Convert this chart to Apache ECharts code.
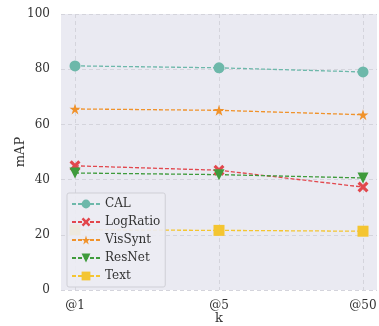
<!DOCTYPE html>
<html><head><meta charset="utf-8">
<script src="https://cdn.jsdelivr.net/npm/echarts@6/dist/echarts.min.js"></script>
<style>html,body{margin:0;padding:0;background:#fff}#c{width:379px;height:326px}</style>
</head><body><div id="c"></div>
<script>
const categories = ['@1', '@5', '@50'];
const yTicks = [0, 20, 40, 60, 80, 100];
const seriesNames = ['CAL', 'LogRatio', 'VisSynt', 'ResNet', 'Text'];
const calValues = [81.2, 80.5, 79.0];
const logRatioValues = [45.0, 43.4, 37.3];
const visSyntValues = [65.6, 65.1, 63.5];
const resNetValues = [42.4, 41.8, 40.6];
const textValues = [21.8, 21.6, 21.3];

const colors = ['#6db8aa', '#e2474d', '#f0922b', '#3f9b3c', '#f4c531'];
const crossPath = 'path://M2,0 L5,3 L8,0 L10,2 L7,5 L10,8 L8,10 L5,7 L2,10 L0,8 L3,5 L0,2 Z';
const starPath = 'path://M50,0 L61.8,36.2 L100,36.2 L69.1,58.6 L80.9,95.1 L50,72.4 L19.1,95.1 L30.9,58.6 L0,36.2 L38.2,36.2 Z';
const symbols = ['circle', crossPath, starPath, 'triangle', 'rect'];
const sizes = [11, 11, 11, 11, 11];
const rotates = [0, 0, 0, 180, 0];
const values = [calValues, logRatioValues, visSyntValues, resNetValues, textValues];

const font = 'DejaVu Serif';
const chart = echarts.init(document.getElementById('c'));
chart.setOption({
  animation: false,
  textStyle: { fontFamily: font },
  grid: [
    { left: 61, top: 14, width: 316, height: 276, show: true, backgroundColor: '#eaeaf2', borderWidth: 0, containLabel: false, outerBoundsMode: 'none' },
    { left: 75, top: 14, width: 288, height: 276, show: false, containLabel: false, outerBoundsMode: 'none' }
  ],
  xAxis: [
    { type: 'value', gridIndex: 0, min: 0, max: 1, show: false },
    { type: 'category', gridIndex: 1, data: categories, boundaryGap: false,
      axisLine: { show: false }, axisTick: { show: false },
      axisLabel: { color: '#333', fontSize: 12, fontFamily: font, margin: 10 },
      splitLine: { show: true, lineStyle: { color: '#d4d4dc', type: [4, 3], width: 1 } },
      name: 'k', nameLocation: 'middle', nameGap: 22, nameMoveOverlap: false,
      nameTextStyle: { color: '#333', fontSize: 13, fontFamily: font } }
  ],
  yAxis: [
    { type: 'value', gridIndex: 0, min: 0, max: 100, interval: 20,
      axisLine: { show: false }, axisTick: { show: false },
      axisLabel: { color: '#333', fontSize: 12, fontFamily: font, margin: 11,
        formatter: v => yTicks.includes(v) ? String(v) : '' },
      splitLine: { show: true, lineStyle: { color: '#d4d4dc', type: [4, 3], width: 1 } },
      name: 'mAP', nameLocation: 'middle', nameGap: 34, nameMoveOverlap: false,
      nameTextStyle: { color: '#333', fontSize: 13, fontFamily: font } },
    { type: 'value', gridIndex: 1, min: 0, max: 100, interval: 20, show: false }
  ],
  legend: {
    left: 67, top: 193, orient: 'vertical', itemGap: 6,
    itemWidth: 28, itemHeight: 11,
    padding: [5, 5, 5, 4],
    backgroundColor: 'rgba(236,236,243,0.9)', borderColor: '#cfcfd6', borderWidth: 1, borderRadius: 2,
    textStyle: { color: '#333', fontSize: 12, fontFamily: font },
    data: seriesNames
  },
  series: seriesNames.map((n, i) => ({
    name: n, type: 'line', xAxisIndex: 1, yAxisIndex: 1,
    data: values[i], symbol: symbols[i], symbolSize: sizes[i], symbolRotate: rotates[i],
    lineStyle: { color: colors[i], type: [4, 2], width: 1.3 },
    itemStyle: { color: colors[i] },
    z: 2
  }))
});
</script></body></html>
